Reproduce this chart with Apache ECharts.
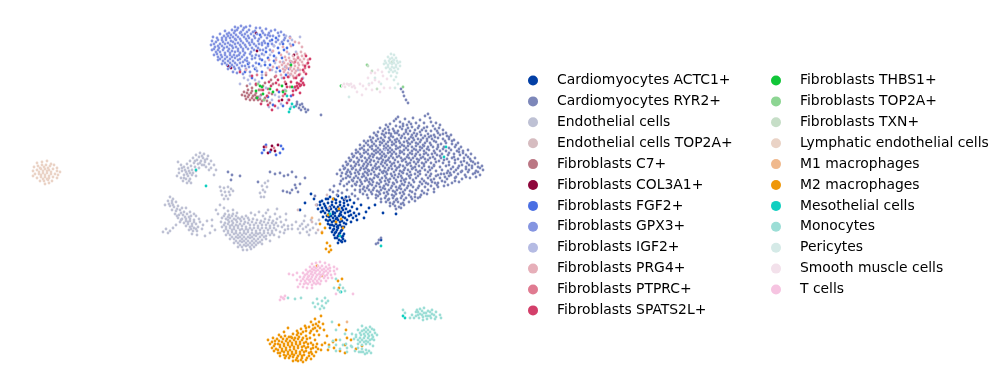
<!DOCTYPE html>
<html>
<head>
<meta charset="utf-8">
<style>html,body{margin:0;padding:0;background:#fff}#main{width:1004px;height:389px}</style>
<script src="https://cdn.jsdelivr.net/npm/echarts@6/dist/echarts.min.js"></script>
</head>
<body>
<div id="main"></div>
<script>
// umap positions, x / y in picture pixels
var actc1 = [[322,201],[326,199],[330,197],[334,199],[338,196],[342,198],[346,197],[350,200],[354,203],[320,205],[324,204],[328,203],[332,202],[336,203],[340,202],[344,203],[348,205],[352,207],[357,209],[361,205],[366,212],[318,209],[322,208],[326,208],[330,207],[334,207],[338,207],[342,208],[346,209],[350,211],[354,213],[359,214],[364,218],[321,212],[325,213],[329,211],[333,212],[337,211],[341,212],[345,213],[349,216],[353,218],[357,220],[323,217],[327,216],[331,216],[335,216],[339,216],[343,217],[347,220],[351,222],[326,220],[330,220],[334,221],[338,220],[342,221],[346,224],[328,224],[332,225],[336,224],[340,225],[344,227],[330,228],[334,229],[338,228],[342,230],[332,232],[336,232],[340,233],[344,234],[334,235],[338,236],[342,237],[335,238],[339,240],[343,239],[337,227],[333,218],[329,214],[336,209],[344,206],[340,214],[375,205],[383,213],[396,214],[314,199],[305,203],[311,194],[300,210],[381,240],[369,208],
[328,199],[332,205],[336,200],[340,205],[344,200],[327,210],[331,209],[335,213],[339,210],[343,210],[323,211],[325,206],[329,217],[333,214],[337,218],[341,215],[345,218],[328,221],[332,222],[336,219],[340,222],[344,223],[330,225],[334,226],[338,226],[342,227],[333,230],[337,230],[341,231],[335,233],[339,234],[343,236],[337,238],[341,241],[345,241],[338,243],[342,242],[320,202],[348,212],[351,215],[356,216],[347,201]];
var ryr2 = [[428,114],[425,116],[430,118],[398,117],[405,119],[413,118],[420,120],[394,121],[400,122],[409,122],[416,123],[424,123],[431,122],[436,123],[386,125],[390,124],[396,126],[403,126],[407,125],[412,127],[419,126],[427,127],[433,126],[439,128],[380,128],[385,129],[389,130],[393,129],[398,131],[402,129],[406,130],[410,131],[415,130],[422,130],[426,131],[431,131],[437,131],[443,130],[446,133],[374,133],[378,132],[382,134],[386,133],[391,134],[395,133],[399,135],[404,134],[408,134],[412,135],[417,134],[421,135],[428,134],[434,135],[440,135],[447,136],[451,135],[370,137],[373,138],[377,136],[381,138],[385,137],[389,138],[393,137],[397,139],[401,138],[405,138],[409,139],[413,138],[418,139],[423,138],[427,139],[432,139],[438,138],[443,139],[449,139],[454,140],[364,141],[368,141],[372,142],[376,141],[380,142],[384,141],[388,142],[392,142],[396,142],[400,143],[404,142],[408,143],[412,142],[416,143],[420,142],[425,143],[430,143],[436,142],[441,144],[446,143],[452,144],[458,143],[360,145],[364,146],[368,145],[372,146],[376,146],[380,145],[384,146],[388,146],[392,145],[396,146],[400,147],[404,146],[408,146],[412,147],[416,146],[420,147],[424,146],[428,147],[433,147],[438,147],[444,147],[449,148],[455,147],[461,147],[356,150],[360,149],[364,150],[368,150],[372,149],[376,150],[380,150],[384,149],[388,150],[392,150],[396,149],[400,151],[404,150],[408,150],[412,151],[416,150],[420,150],[424,151],[429,150],[434,151],[440,151],[446,151],[451,150],[457,151],[463,151],[468,150],[352,154],[356,153],[360,154],[364,153],[368,154],[372,154],[376,153],[380,154],[384,154],[388,153],[392,154],[396,154],[400,153],[404,154],[408,155],[412,154],[416,154],[420,155],[424,154],[428,155],[432,154],[437,155],[442,154],[448,155],[454,154],[460,155],[466,155],[471,154],[349,158],[353,157],[357,158],[361,157],[365,158],[369,158],[373,157],[377,158],[381,158],[385,157],[389,158],[393,158],[397,157],[401,158],[405,159],[409,158],[413,158],[417,159],[421,158],[425,159],[430,158],[435,159],[441,158],[447,159],[452,158],[458,159],[464,158],[470,159],[475,158],[346,162],[350,161],[354,162],[358,162],[362,161],[366,162],[370,162],[374,161],[378,162],[382,162],[386,161],[390,162],[394,163],[398,162],[402,161],[406,162],[410,163],[414,162],[418,162],[422,163],[426,162],[431,163],[436,162],[443,163],[449,162],[455,163],[461,162],[467,163],[473,162],[478,163],[343,166],[347,165],[351,166],[355,166],[359,165],[363,166],[367,166],[371,165],[375,166],[379,167],[383,166],[387,165],[391,166],[395,166],[399,167],[403,166],[407,165],[411,166],[415,167],[419,166],[424,166],[429,167],[434,166],[440,167],[446,166],[453,167],[459,166],[466,167],[472,166],[478,167],[482,166],[340,170],[344,169],[348,170],[352,169],[356,170],[360,170],[364,169],[368,170],[372,170],[376,169],[380,170],[384,171],[388,170],[392,169],[396,170],[400,171],[404,170],[408,170],[412,169],[416,170],[420,171],[425,170],[430,170],[436,171],[442,170],[448,171],[456,170],[462,171],[469,170],[476,171],[483,170],[337,174],[342,173],[346,174],[351,174],[355,173],[359,174],[363,174],[367,173],[371,174],[375,175],[379,174],[383,173],[387,174],[391,174],[395,175],[399,174],[403,173],[407,174],[411,175],[415,174],[420,174],[426,175],[431,174],[438,175],[444,174],[451,175],[458,174],[465,175],[473,174],[480,175],[346,178],[350,177],[354,178],[358,178],[362,177],[366,178],[370,179],[374,178],[378,177],[382,178],[386,178],[390,179],[394,178],[398,177],[402,178],[406,179],[410,178],[416,178],[422,179],[428,178],[434,179],[440,178],[447,179],[455,178],[462,179],[470,178],[476,177],[341,181],[349,182],[353,181],[357,182],[361,182],[365,181],[369,182],[373,182],[377,183],[381,182],[385,181],[389,182],[393,183],[397,182],[401,181],[405,182],[409,183],[414,182],[420,182],[426,183],[432,182],[438,183],[445,182],[452,183],[459,182],[334,186],[344,186],[352,186],[356,185],[360,186],[364,187],[368,186],[372,185],[376,186],[380,187],[384,186],[388,185],[392,186],[396,187],[400,186],[404,185],[408,186],[413,187],[419,186],[425,187],[431,186],[437,185],[444,186],[330,190],[338,191],[347,190],[355,190],[360,190],[365,191],[369,190],[373,190],[377,191],[381,190],[385,189],[389,190],[393,191],[397,190],[401,189],[405,190],[410,191],[416,190],[422,191],[428,190],[434,189],[337,195],[352,194],[363,194],[367,195],[372,194],[376,195],[380,194],[384,193],[388,194],[392,195],[396,194],[400,193],[404,194],[409,195],[415,194],[421,195],[427,194],[345,199],[358,199],[368,198],[376,198],[381,199],[385,198],[389,199],[393,198],[397,199],[401,198],[406,198],[412,199],[418,198],[381,202],[386,202],[390,203],[394,202],[398,202],[403,203],[409,202],[415,201],[390,206],[395,206],[399,207],[404,205],[396,209],[401,208],
[297,102],[300,105],[296,106],[303,107],[299,108],[305,109],[301,110],[306,112],[297,104],[302,104],[308,110],[321,115],[401,89],[404,96],[406,100],[408,103],[403,92],[379,240],[376,244],[381,238],[378,243],[287,192],[292,190],[296,188],[283,191],[298,192],[290,193],[295,185],[300,184],[270,172],[275,174],[280,173],[284,176],[288,175],[292,172],[296,177],[258,182],[305,178],[228,172],[232,175],[231,180],[240,176],[317,205],[315,196],
[396,119],[403,124],[411,124],[418,128],[388,127],[394,131],[400,127],[408,128],[424,128],[435,129],[383,131],[389,133],[397,133],[406,132],[414,133],[420,132],[429,137],[376,135],[384,135],[391,136],[402,136],[411,137],[416,136],[425,136],[435,137],[371,140],[378,139],[383,140],[390,140],[395,140],[399,141],[407,141],[414,140],[421,140],[427,141],[366,143],[374,144],[382,143],[386,144],[394,144],[402,145],[410,144],[418,144],[423,145],[431,145],[362,148],[370,147],[378,148],[386,148],[390,148],[398,148],[406,148],[414,149],[422,148],[427,149],[358,152],[366,152],[374,151],[378,152],[382,152],[390,152],[394,152],[402,152],[410,153],[418,152],[426,153],[435,153],[354,156],[362,156],[370,156],[374,155],[382,156],[386,156],[391,156],[399,156],[407,157],[415,156],[423,157],[433,157],[351,160],[359,160],[367,160],[371,160],[379,159],[383,160],[388,160],[395,160],[403,160],[411,160],[419,160],[428,160],[439,161],[348,164],[356,164],[364,164],[368,164],[376,164],[381,164],[385,163],[392,164],[400,165],[408,164],[416,164],[424,164],[434,165],[345,168],[353,168],[361,168],[366,168],[373,168],[377,168],[385,168],[389,168],[397,168],[405,168],[413,168],[422,168],[432,168],[350,172],[358,172],[365,172],[369,171],[374,172],[382,172],[386,172],[394,172],[402,172],[410,172],[418,172],[428,172],[450,173],[468,172],[348,176],[356,176],[364,176],[368,175],[377,176],[385,176],[392,176],[401,176],[409,176],[418,176],[430,176],[445,177],[352,180],[360,180],[367,180],[372,180],[380,180],[388,180],[396,180],[404,180],[413,180],[424,181],[355,184],[362,184],[370,184],[379,184],[386,184],[394,184],[402,184],[411,185],[422,184],[435,183],[367,188],[374,188],[383,188],[391,188],[399,188],[407,188],[418,188],[371,192],[379,192],[387,192],[395,192],[403,192],[412,192],[378,196],[386,196],[394,196],[402,196],[411,197],[388,200],[396,200],[404,200],[393,204],[401,204],
[440,125],[443,134],[449,137],[445,141],[452,141],[456,145],[459,149],[449,153],[454,157],[459,152],[463,153],[468,157],[464,161],[471,161],[444,160],[449,165],[455,160],[475,164],[469,165],[462,165],[451,169],[458,168],[466,169],[472,168],[480,168],[447,173],[454,172],[461,172],[475,173],[478,172],[441,174],[436,176],[442,181],[449,176],[456,177],[466,177],[448,185],[455,181],[431,180],[428,184],[438,187],[434,192],[424,193],[420,197],[415,197],[440,156],[437,149],[443,149],[438,145],[434,141],[431,136],[438,133],[347,172],[341,176],[343,179],[347,184],[340,184],[333,192],[342,193],[349,197],[355,196],[360,192],[363,189]];
var endo = [[196,155],[200,153],[204,154],[208,156],[199,157],[203,158],[207,159],[211,161],[193,158],[197,160],[201,161],[205,162],[209,164],[214,165],[190,161],[194,163],[198,164],[202,165],[206,167],[211,168],[216,170],[187,164],[191,166],[195,167],[199,168],[181,165],[184,167],[188,168],[192,170],[196,171],[179,169],[182,171],[186,172],[190,173],[184,175],[188,176],[192,175],[186,179],[190,179],[183,181],[187,183],[191,183],[179,173],[209,170],[220,187],[224,188],[228,187],[231,189],[221,191],[225,192],[229,192],[233,191],[222,195],[226,196],[230,195],[224,199],[228,199],[265,183],[262,186],[267,187],[263,190],[260,193],[265,192],[268,181],[261,197],[264,197],[170,197],[173,199],[168,201],[172,203],[176,202],[165,205],[170,206],[174,207],[178,206],[172,210],[176,211],[180,210],[184,212],[175,214],[179,215],[183,215],[187,214],[191,216],[178,218],[182,219],[186,219],[190,219],[194,220],[196,216],[180,222],[184,223],[188,222],[192,224],[196,224],[200,222],[186,226],[190,227],[194,228],[198,227],[189,230],[193,231],[197,231],[202,229],[192,234],[197,235],[166,229],[170,231],[163,232],[168,233],[210,233],[205,236],[224,208],[228,211],[233,210],[225,214],[229,215],[233,214],[237,213],[222,218],[226,219],[230,218],[234,219],[238,218],[242,217],[246,216],[251,213],[255,215],[259,212],[263,216],[266,213],[270,217],[275,214],[221,222],[225,223],[229,222],[233,223],[237,222],[241,221],[245,222],[249,220],[253,219],[257,220],[261,221],[265,219],[269,220],[273,221],[277,219],[281,222],[286,220],[222,227],[226,227],[230,226],[234,227],[238,226],[242,226],[246,227],[250,225],[254,225],[258,226],[262,225],[266,225],[270,226],[274,225],[278,226],[282,227],[288,226],[292,225],[224,231],[228,231],[232,230],[236,231],[240,230],[244,231],[248,230],[252,230],[256,231],[260,230],[264,231],[268,230],[272,231],[276,230],[280,232],[285,230],[226,235],[230,235],[234,234],[238,235],[242,235],[246,234],[250,235],[254,235],[258,234],[262,235],[266,236],[270,235],[274,235],[279,237],[230,239],[234,239],[238,238],[242,239],[246,239],[250,238],[254,239],[258,239],[262,240],[266,239],[270,241],[234,243],[238,243],[242,242],[246,243],[250,243],[254,243],[258,243],[262,244],[238,247],[242,247],[246,246],[250,247],[254,247],[243,250],[247,250],[251,249],[296,222],[300,226],[304,221],[308,225],[303,229],[307,232],[300,233],[311,220],[313,228],[316,224],[305,216],[319,220],[316,233],[309,235],
[202,156],[205,160],[195,161],[200,163],[204,165],[185,170],[189,171],[193,173],[187,174],[182,168],[177,176],[184,178],[189,181],[172,201],[169,204],[173,205],[177,209],[181,213],[177,216],[185,217],[189,217],[181,220],[186,221],[190,221],[194,222],[188,224],[192,226],[196,229],[191,229],[224,216],[228,217],[232,216],[236,216],[228,220],[232,221],[236,220],[240,219],[244,219],[248,218],[224,225],[228,224],[232,225],[236,225],[240,224],[244,224],[248,223],[252,222],[256,223],[260,223],[264,222],[268,223],[272,223],[276,223],[226,229],[230,228],[234,229],[238,228],[242,229],[246,229],[250,228],[254,228],[258,228],[262,228],[266,228],[270,228],[274,228],[228,233],[232,232],[236,233],[240,233],[244,233],[248,232],[252,233],[256,233],[260,233],[264,233],[268,233],[272,233],[232,237],[236,237],[240,237],[244,237],[248,237],[252,237],[256,236],[260,237],[264,237],[236,241],[240,241],[244,241],[248,241],[252,241],[256,241],[260,242],[240,245],[244,245],[248,245],[252,245],[256,245],[302,224],[306,227],[310,230],[298,229],
[182,208],[186,208],[190,212],[194,214],[199,219],[203,225],[207,221],[212,226],[215,230],[176,225],[173,228],[214,175],[181,178],[196,176],[178,162],[212,220],[218,214],[220,205],[216,210],[284,233],[288,229],[292,229],[280,217],[286,214],[268,210],[277,209],[284,225]];
var endoTop = [[327,195],[316,205],[312,222],[318,230],[329,208],[298,210]];
var c7 = [[244,92],[248,90],[252,91],[256,93],[245,96],[249,95],[253,96],[257,97],[261,95],[265,98],[246,99],[250,100],[254,100],[258,100],[262,101],[267,101],[252,88],[259,90],[263,86],[268,89],[272,94],[247,86],[256,85],[265,83],[273,84],[266,75],[275,77],[271,80],[242,95],[270,103],[247,93],[251,93],[255,95],[259,97],[248,97],[252,98],[256,98],[260,99],[264,100]];
var col3a1 = [[256,33],[257,51],[228,66],[231,68],[286,84],[294,55],[264,147],[272,146],[275,151],[278,145],[268,153],[271,150],[282,100]];
var fgf2 = [[264,150],[270,152],[280,153],[283,149],[262,153],[276,155],[281,146],[266,145],[260,35],[272,40],[278,48],[284,50],[266,52],[274,56],[262,60],[282,58],[270,65],[277,68],[262,72],[286,75],[293,45],[291,62],[245,72],[252,78],[262,78],[268,97],[279,92],[291,96],[283,106],[248,64],[268,44],[276,38],[283,44],[268,58],[279,53],[265,65],[274,61],[287,48],[255,69],[259,64],[280,71],[289,69],[273,105]];
var gpx3 = [[235,27],[241,26],[246,27],[232,30],[237,30],[243,30],[249,30],[255,31],[250,26],[260,28],[266,29],[225,31],[229,33],[234,33],[240,33],[245,34],[251,34],[257,34],[263,33],[269,33],[275,30],[281,32],[220,34],[224,36],[228,36],[233,37],[238,37],[244,37],[249,38],[255,38],[261,37],[267,38],[273,36],[279,36],[285,38],[213,37],[217,38],[222,40],[226,40],[231,41],[236,40],[241,41],[247,41],[252,42],[258,41],[264,41],[270,41],[276,42],[282,42],[288,41],[212,41],[216,42],[220,44],[225,44],[230,45],[235,44],[240,45],[245,45],[250,45],[256,46],[262,45],[268,46],[274,46],[211,45],[215,47],[219,48],[224,48],[229,49],[233,48],[238,49],[243,49],[248,49],[254,50],[260,50],[270,50],[212,50],[216,52],[220,52],[225,53],[230,53],[235,52],[240,53],[245,53],[250,54],[256,55],[214,55],[218,57],[222,57],[227,57],[232,57],[237,56],[242,57],[247,58],[252,59],[218,60],[223,61],[228,61],[233,61],[238,60],[243,62],[249,63],[256,63],[222,64],[227,65],[232,65],[237,65],[242,66],[228,69],[235,69],[240,70],[246,69],[237,73],[233,72],[243,74],[250,72],
[238,28],[244,28],[235,31],[241,32],[247,32],[253,32],[227,34],[231,35],[236,35],[242,35],[248,36],[222,38],[226,38],[230,38],[235,39],[240,39],[246,39],[252,40],[218,40],[223,42],[228,43],[233,42],[238,43],[243,43],[249,43],[214,44],[218,46],[222,46],[227,47],[232,46],[236,47],[241,47],[246,47],[252,48],[214,49],[218,50],[223,50],[228,51],[232,51],[238,51],[243,51],[217,54],[221,55],[225,55],[230,55],[234,55],[239,55],[244,55],[220,59],[225,59],[230,59],[235,58],[240,59],[245,60],[225,63],[230,63],[235,63],[240,63],[230,67],[234,67],[239,68],[245,66],[265,35],[270,36],[262,43],[268,35],[258,48],[263,50],[255,58],[259,56],
[256,28],[262,31],[271,31],[278,33],[284,35],[290,37],[254,36],[259,39],[265,43],[272,44],[278,40],[284,40],[254,44],[259,44],[251,52],[262,54],[266,48],[252,56],[247,61],[253,66],[249,67],[260,59],[257,71]];
var igf2 = [[262,75],[268,68],[275,63],[283,62],[289,54],[296,52],[270,55],[276,58],[259,82],[266,88],[275,95],[285,90],[294,88],[260,97],[272,100],[281,104],[288,100],[244,78],[240,84],[250,84],[290,75],[298,70],[303,78],[276,72],[282,78],[291,107],[279,97],[269,107],[274,46],[290,44],[300,37],[385,150],[256,68],[261,66],[250,76],[255,80],[264,55],[272,52],[280,44],[286,36],[292,40],[265,62],[272,70],[285,67],[278,108],[248,80]];
var prg4 = [[283,47],[287,52],[291,46],[295,42],[299,43],[302,47],[281,55],[285,57],[289,58],[293,56],[297,54],[301,52],[305,54],[276,60],[280,62],[284,63],[288,64],[292,62],[296,60],[300,60],[304,59],[308,60],[279,67],[283,69],[287,68],[291,67],[295,66],[299,65],[303,65],[307,64],[284,72],[288,73],[292,71],[296,71],[300,70],[289,77],[293,76],[273,67],[269,60],[266,73],[281,75],[297,76],[300,74],[273,51],[246,70],[290,38],[286,60],[290,61],[294,59],[298,57],[302,56],[282,65],[286,66],[290,65],[294,63],[298,63],[302,62],[285,70],[290,69],[294,69],[298,68],[291,74],[295,73]];
var ptprc = [[270,70],[276,76],[285,82],[294,78],[305,68],[304,72],[261,90],[269,93],[279,85],[290,87],[257,75],[283,96],[295,62],[298,58],[266,147],[274,148]];
var spats2l = [[297,83],[300,86],[303,83],[295,87],[298,88],[301,81],[304,85],[293,91],[305,66],[308,63],[310,59],[306,74],[303,70],[299,75],[296,78],[291,82],[287,87],[283,91],[276,83],[271,86],[263,90],[277,90],[285,94],[293,95],[268,105],[275,106],[272,110],[279,101],[287,103],[296,90],[261,104],[256,84],[252,76],[240,72],[284,78],[278,80],[300,93],[306,56],[288,77],[289,100],[267,96],[269,82],[299,84],[301,85],[297,86],[302,79],[309,67]];
var thbs1 = [[260,86],[262,87],[256,91],[263,94],[257,98],[282,86],[283,92],[292,87],[291,65],[341,86],[270,89],[273,92]];
var top2a = [[258,84],[286,91],[264,100],[367,65],[403,87]];
var txn = [[368,66],[372,71],[349,85],[392,62],[377,89]];
var lymph = [[37,163],[42,162],[47,161],[51,164],[34,167],[38,166],[42,165],[46,165],[50,166],[54,165],[57,168],[33,171],[37,170],[41,169],[45,169],[49,170],[53,169],[57,171],[60,172],[35,174],[39,174],[43,173],[47,173],[51,174],[55,174],[58,175],[33,176],[37,178],[41,177],[45,177],[49,178],[53,177],[57,178],[40,181],[44,181],[48,180],[52,181],[45,184],[49,183],[40,168],[44,167],[48,168],[39,172],[43,171],[47,171],[51,172],[41,175],[45,175],[49,176],[43,179],[47,179]];
var m1 = [[312,218],[322,232],[347,322],[322,276]];
var m2 = [[325,228],[322,233],[320,224],[327,243],[330,246],[326,249],[331,250],[329,252],[317,266],[333,199],[339,209],[341,219],[343,228],[328,215],[336,222],[338,281],[342,279],[339,288],[321,316],[315,319],[319,322],[323,324],[311,322],[316,324],[320,328],[305,326],[309,327],[313,329],[317,331],[324,330],[301,329],[306,331],[310,333],[314,335],[319,335],[327,336],[297,331],[293,334],[288,328],[284,332],[279,335],[273,338],[268,340],[272,342],[277,339],[281,337],[285,336],[289,337],[297,335],[301,334],[306,336],[310,338],[315,340],[270,344],[274,346],[278,344],[282,342],[286,341],[290,341],[294,340],[298,339],[302,340],[306,342],[311,343],[317,344],[322,345],[272,348],[276,349],[280,347],[284,346],[288,345],[292,345],[296,344],[300,344],[304,346],[308,347],[313,348],[318,349],[274,351],[278,353],[282,351],[286,350],[290,350],[294,349],[298,348],[302,350],[306,351],[311,352],[316,352],[321,350],[280,356],[284,355],[288,354],[292,354],[296,353],[300,354],[304,355],[309,356],[314,356],[285,358],[289,358],[293,357],[297,358],[302,358],[306,360],[311,359],[293,361],[298,361],[303,362],[325,343],[329,345],[333,342],[328,350],[334,348],[340,351],[345,353],[336,340],[345,345],[351,340],[346,330],[339,325],[347,338],[356,349],[362,346],
[275,341],[279,341],[283,339],[287,339],[291,337],[295,338],[299,337],[303,338],[307,339],[275,344],[280,345],[284,344],[288,343],[292,343],[296,342],[300,342],[304,343],[308,344],[313,345],[278,350],[282,349],[286,348],[290,347],[294,347],[298,346],[302,347],[306,348],[311,349],[316,347],[280,353],[284,352],[288,352],[292,352],[296,351],[300,352],[304,352],[309,353],[286,356],[290,356],[294,355],[298,356],[302,356],[307,358],[312,354],[296,360],[301,360],[311,331],[315,328],[306,328],[318,326],[313,325],[298,333],[303,332],[292,338]];
var meso = [[381,246],[444,157],[446,147],[340,236],[206,186],[287,96],[290,109],[292,104],[294,107],[289,112],[403,316],[405,318],[341,292],[330,214],[196,170]];
var mono = [[416,312],[420,309],[424,308],[428,311],[432,310],[436,312],[440,315],[412,315],[416,316],[420,314],[424,313],[428,316],[432,314],[436,317],[441,318],[410,318],[414,318],[419,318],[423,317],[427,319],[431,318],[435,319],[405,313],[403,310],[423,320],[417,310],[322,301],[317,299],[325,298],[313,303],[318,304],[322,306],[326,303],[315,307],[320,309],[324,308],[328,301],[301,298],[295,299],[288,298],[336,279],[340,285],[343,288],[338,290],[345,291],[340,292],[334,288],[362,326],[366,328],[370,327],[374,330],[358,330],[362,331],[366,332],[370,332],[375,333],[352,334],[356,335],[361,335],[365,336],[369,336],[373,337],[377,335],[354,339],[358,340],[362,340],[366,341],[370,340],[374,340],[358,344],[362,345],[366,344],[370,344],[373,346],[340,340],[336,345],[343,345],[333,341],[347,348],[351,346],[346,344],[340,349],[336,351],[355,351],[359,352],[363,352],[367,353],[371,353],[352,347],[347,352],[329,347],[366,350],[372,329],[332,322],[336,330],[345,334],[418,312],[422,311],[426,313],[430,312],[434,315],[418,315],[422,315],[426,316],[430,316],[364,330],[368,330],[360,333],[364,334],[368,334],[372,335],[356,337],[360,338],[364,338],[368,338],[372,339],[360,342],[364,342],[368,342],[358,348],[362,349],[361,352],[365,354],[369,351]];
var pericytes = [[391,54],[394,55],[388,57],[392,58],[396,58],[385,61],[389,61],[393,61],[397,61],[400,62],[384,64],[388,65],[392,64],[396,65],[400,66],[386,68],[390,69],[394,68],[398,69],[389,72],[393,72],[397,73],[391,76],[396,77],[394,80],[398,84],[395,88],[349,97],[369,84],[375,78],[381,84],[390,59],[394,60],[386,63],[390,63],[394,63],[398,63],[388,67],[392,67],[396,67],[391,70],[395,71]];
var smooth = [[342,86],[345,87],[349,85],[352,87],[355,88],[360,84],[363,86],[366,89],[369,85],[372,83],[375,80],[379,82],[382,72],[378,70],[371,73],[368,78],[383,76],[387,79],[384,88],[390,88],[357,92],[362,95],[372,90],[380,92],[375,73],[347,84],[351,84],[354,86],[344,84]];
var tcells = [[312,264],[316,263],[320,262],[325,263],[329,265],[310,267],[314,267],[318,266],[322,266],[326,267],[330,268],[334,267],[306,270],[310,271],[314,270],[318,270],[322,270],[326,271],[330,271],[334,271],[337,269],[303,273],[307,274],[311,274],[315,273],[319,274],[323,274],[327,275],[331,275],[335,274],[289,274],[293,275],[297,273],[300,277],[304,277],[308,277],[312,277],[316,277],[320,277],[324,278],[328,278],[332,278],[297,280],[301,281],[305,281],[309,280],[313,281],[317,281],[321,281],[326,281],[300,284],[304,284],[308,284],[312,285],[316,284],[320,284],[298,287],[303,287],[307,288],[312,288],[281,297],[284,299],[280,300],[285,296],[353,294],[336,294],[312,269],[316,268],[320,268],[324,269],[328,269],[308,272],[312,272],[316,271],[320,272],[324,272],[328,273],[305,275],[309,276],[313,275],[317,275],[321,275],[325,276],[303,279],[307,279],[311,279],[315,279],[319,279],[306,283],[310,282],[314,283],[318,283],[283,298]];

var names = ['Cardiomyocytes ACTC1+','Cardiomyocytes RYR2+','Endothelial cells','Endothelial cells TOP2A+','Fibroblasts C7+','Fibroblasts COL3A1+','Fibroblasts FGF2+','Fibroblasts GPX3+','Fibroblasts IGF2+','Fibroblasts PRG4+','Fibroblasts PTPRC+','Fibroblasts SPATS2L+','Fibroblasts THBS1+','Fibroblasts TOP2A+','Fibroblasts TXN+','Lymphatic endothelial cells','M1 macrophages','M2 macrophages','Mesothelial cells','Monocytes','Pericytes','Smooth muscle cells','T cells'];
var colors = ['#023fa5','#7d87b9','#bec1d4','#d6bcc0','#bb7784','#8e063b','#4a6fe3','#8595e1','#b5bbe3','#e6afb9','#e07b91','#d33f6a','#11c638','#8dd593','#c6dec7','#ead3c6','#f0b98d','#ef9708','#0fcfc0','#9cded6','#d5eae7','#f3e1eb','#f6c4e1'];
var values = [actc1,ryr2,endo,endoTop,c7,col3a1,fgf2,gpx3,igf2,prg4,ptprc,spats2l,thbs1,top2a,txn,lymph,m1,m2,meso,mono,pericytes,smooth,tcells];

var chart = echarts.init(document.getElementById('main'));

function legendCol(left, data) {
  return {
    orient: 'vertical',
    left: left,
    top: 67.5,
    data: data,
    icon: 'circle',
    itemWidth: 10,
    itemHeight: 10,
    itemGap: 4.9,
    selectedMode: false,
    itemStyle: {opacity: 1},
    textStyle: {fontFamily: 'DejaVu Sans', fontSize: 13.9, color: '#000', padding: [0, 0, 0, 14], lineHeight: 16}
  };
}

chart.setOption({
  animation: false,
  color: colors,
  legend: [legendCol(523, names.slice(0, 12)), legendCol(766, names.slice(12))],
  grid: {left: 0, right: 0, top: 0, bottom: 0},
  xAxis: {type: 'value', min: 0, max: 1004, show: false},
  yAxis: {type: 'value', min: 0, max: 389, inverse: true, show: false},
  series: names.map(function (name, i) {
    return {name: name, type: 'scatter', data: values[i], symbolSize: 2.8, itemStyle: {opacity: 1}};
  })
});
</script>
</body>
</html>
